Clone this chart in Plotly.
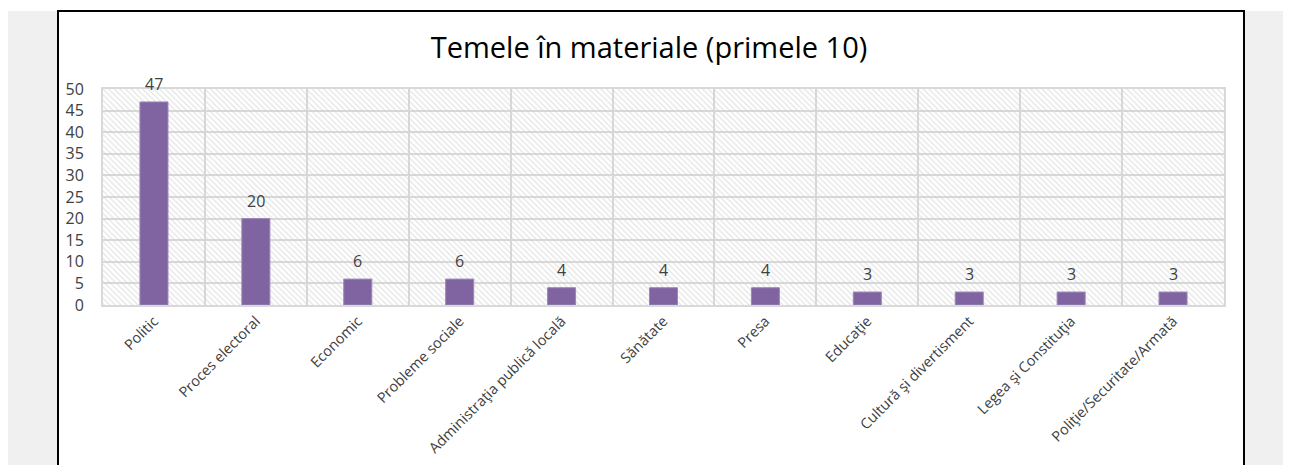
import plotly.graph_objects as go

categories = ["Politic", "Proces electoral", "Economic", "Probleme sociale",
              "Administraţia publică locală", "Sănătate", "Presa", "Educaţie",
              "Cultură şi divertisment", "Legea şi Constituţia", "Poliţie/Securitate/Armată"]
values = [47, 20, 6, 6, 4, 4, 4, 3, 3, 3, 3]
y_ticks = [0, 5, 10, 15, 20, 25, 30, 35, 40, 45, 50]
title_text = "Temele în materiale (primele 10)"

OFF = 8  # page body margin
W, H = 1291 - OFF, 465 - OFF
L, R, T, B = 103 - OFF, 1224 - OFF, 89 - OFF, 305 - OFF  # plot area in figure px

def px_x(p):
    return (p - OFF - L) / (R - L)

def px_y(p):
    return (B - (p - OFF)) / (B - T)

FONT = "Open Sans"
TXT = "#404040"
GRID = "#d9d9d9"

fig = go.Figure()

# hatched plot-area background
fig.add_trace(go.Bar(
    x=[categories[len(categories) // 2]], y=[max(y_ticks)], width=[len(categories)],
    marker=dict(color="rgba(0,0,0,0)", line=dict(width=0),
                pattern=dict(shape="\\", fgcolor="#cdcdcd", bgcolor="rgba(0,0,0,0)",
                             size=4, solidity=0.35)),
    hoverinfo="skip", showlegend=False))

fig.add_trace(go.Bar(
    x=categories, y=values, width=0.275,
    marker=dict(color="#8064A2", line=dict(color="#9a86b8", width=1)),
    showlegend=False))

for c, v in zip(categories, values):
    fig.add_annotation(x=c, y=v, text=str(v), showarrow=False, yanchor="bottom",
                       yshift=5, font=dict(family=FONT, size=16, color=TXT))

shapes = [
    dict(type="rect", xref="paper", yref="paper", layer="below",
         x0=px_x(5), x1=px_x(1291 + 10), y0=px_y(465 + 20), y1=px_y(11),
         fillcolor="#f0f0f0", line=dict(width=0)),
    dict(type="rect", xref="paper", yref="paper", layer="below",
         x0=px_x(58), x1=px_x(1244), y0=px_y(465 + 20), y1=px_y(11),
         fillcolor="white", line=dict(color="black", width=2)),
]

fig.update_layout(
    width=W, height=H,
    margin=dict(l=L, r=W - R, t=T, b=H - B, pad=0, autoexpand=False),
    paper_bgcolor="white", plot_bgcolor="white",
    barmode="overlay",
    shapes=shapes,
    title=dict(text=title_text, x=(649 - OFF) / W, xref="container", xanchor="center",
               y=1 - (48 - OFF) / H, yref="container", yanchor="middle",
               font=dict(family=FONT, size=29, color="black")),
    xaxis=dict(type="category", categoryorder="array", categoryarray=categories,
               tickson="boundaries", showgrid=True, gridcolor=GRID, gridwidth=2,
               showline=True, linecolor=GRID, linewidth=2, mirror=True,
               ticks="", tickangle=-45, automargin=False,
               tickfont=dict(family=FONT, size=14.5, color=TXT)),
    yaxis=dict(range=[0, max(y_ticks)], tickvals=y_ticks, showgrid=True,
               gridcolor=GRID, gridwidth=2, zeroline=False,
               showline=True, linecolor=GRID, linewidth=2, mirror=True,
               ticks="", ticklabelstandoff=14, automargin=False,
               tickfont=dict(family=FONT, size=16, color=TXT)),
    font=dict(family=FONT),
)

fig.write_html("out.html")
